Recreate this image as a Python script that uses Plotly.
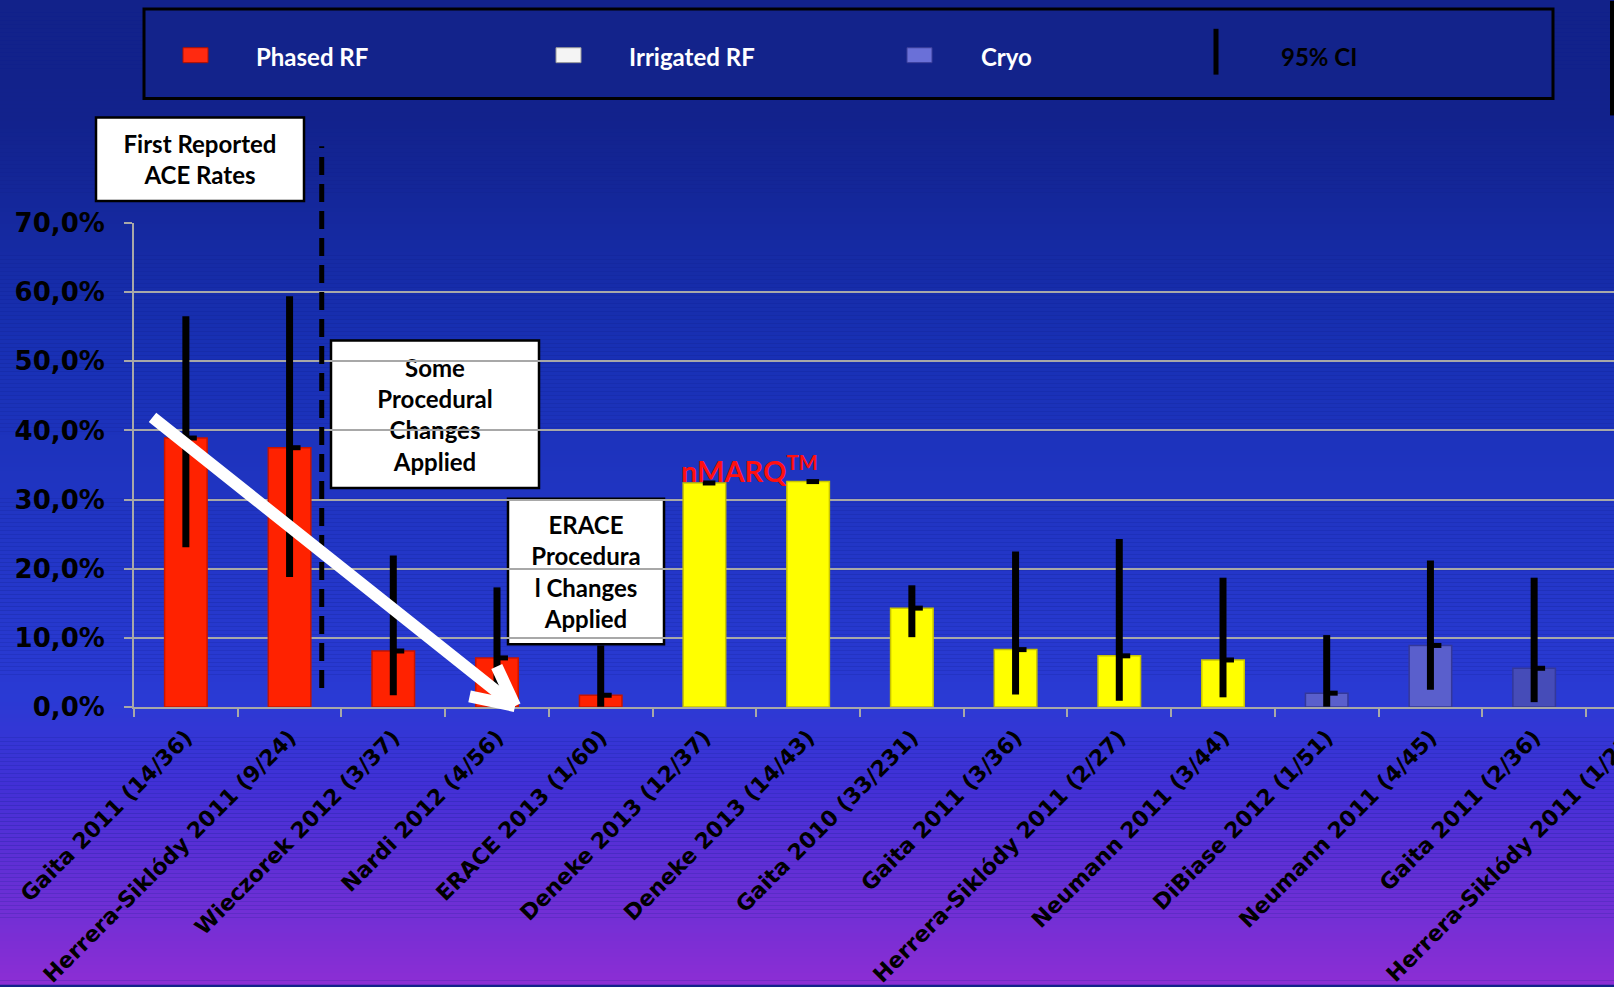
import plotly.graph_objects as go

# ---- data -------------------------------------------------------------
studies = [
    "Gaita 2011 (14/36)", "Herrera-Siklódy 2011 (9/24)", "Wieczorek 2012 (3/37)",
    "Nardi 2012 (4/56)", "ERACE 2013 (1/60)", "Deneke 2013 (12/37)",
    "Deneke 2013 (14/43)", "Gaita 2010 (33/231)", "Gaita 2011 (3/36)",
    "Herrera-Siklódy 2011 (2/27)", "Neumann 2011 (3/44)", "DiBiase 2012 (1/51)",
    "Neumann 2011 (4/45)", "Gaita 2011 (2/36)", "Herrera-Siklódy 2011 (1/23)",
]
technology = (["Phased RF"] * 5 + ["Irrigated RF"] * 6 + ["Cryo"] * 4)
ace_rate = [38.9, 37.5, 8.1, 7.1, 1.7, 32.4, 32.6, 14.3, 8.3, 7.4, 6.8, 2.0, 8.9, 5.6, 4.3]
ci_low = [23.1, 18.8, 1.7, 2.0, 0.04, 32.4, 32.6, 10.1, 1.8, 0.9, 1.4, 0.05, 2.5, 0.7, 0.1]
ci_high = [56.5, 59.4, 21.9, 17.3, 8.9, 32.4, 32.6, 17.6, 22.5, 24.3, 18.7, 10.4, 21.2, 18.7, 21.9]

legend_labels = ["Phased RF", "Irrigated RF", "Cryo", "95% CI"]
y_ticks = [0, 10, 20, 30, 40, 50, 60, 70]
y_tick_labels = ["0,0%", "10,0%", "20,0%", "30,0%", "40,0%", "50,0%", "60,0%", "70,0%"]

# ---- page geometry ----------------------------------------------------
W, H = 1614, 987
M_L, M_R, M_T, M_B = 134, 0, 223, 278
X_RANGE = [-0.5, 13.77]
PLOT_W = W - M_L - M_R
PLOT_H = H - M_T - M_B


def px(x):
    return (x - M_L) / PLOT_W


def py(y):
    return (H - M_B - y) / PLOT_H


bar_colors = {"Phased RF": "#ff2200", "Irrigated RF": "#ffff00", "Cryo": "#5a5fcc"}
bar_edges = {"Phased RF": "#c81400", "Irrigated RF": "#c8c400", "Cryo": "#34389a"}
tick_font = dict(family="DejaVu Sans", size=22, color="black", weight="bold")
label_font = dict(family="Lato", size=24, color="black", weight="bold")

fig = go.Figure()

for tech in ["Phased RF", "Irrigated RF", "Cryo"]:
    idx = [i for i, t in enumerate(technology) if t == tech]
    cols = [bar_colors[tech]] * len(idx)
    if tech == "Cryo":
        cols[-2] = "#464cb8"
    fig.add_trace(go.Bar(
        x=[studies[i] for i in idx],
        y=[ace_rate[i] for i in idx],
        width=0.41,
        marker=dict(color=cols, line=dict(color=bar_edges[tech], width=1.5)),
        error_y=dict(
            type="data", symmetric=False,
            array=[ci_high[i] - ace_rate[i] for i in idx],
            arrayminus=[ace_rate[i] - ci_low[i] for i in idx],
            color="black", thickness=7, width=0,
        ),
        name=tech, showlegend=False, hoverinfo="skip",
    ))

# point-estimate tick beside each CI line
fig.add_trace(go.Scatter(
    x=[i + 0.045 for i in range(len(studies))], y=ace_rate, xaxis="x2",
    mode="markers",
    marker=dict(symbol="line-ew", size=9, line=dict(color="black", width=5)),
    showlegend=False, hoverinfo="skip",
))

# ---- background gradient ---------------------------------------------
stops = [(0.0, (18, 34, 138)), (0.12, (18, 34, 140)), (0.35, (24, 48, 180)),
         (0.71, (42, 58, 212)), (0.80, (66, 48, 214)), (1.0, (140, 46, 212))]


def grad(t):
    for (t0, c0), (t1, c1) in zip(stops[:-1], stops[1:]):
        if t0 <= t <= t1:
            f = (t - t0) / (t1 - t0) if t1 > t0 else 0
            return "rgb(%d,%d,%d)" % tuple(round(a + (b - a) * f) for a, b in zip(c0, c1))
    return "rgb(%d,%d,%d)" % stops[-1][1]


shapes = []
band = 4
for y0 in range(0, H, band):
    shapes.append(dict(type="rect", xref="paper", yref="paper", layer="below",
                       x0=px(0), x1=px(W), y0=py(y0 + band), y1=py(y0),
                       fillcolor=grad((y0 + band / 2) / H), line=dict(width=0)))

# legend panel
shapes.append(dict(type="rect", xref="paper", yref="paper", layer="below",
                   x0=px(144), x1=px(1553), y0=py(98), y1=py(8),
                   fillcolor="#13238b", line=dict(color="black", width=3)))
swatches = [(183, "#ff2a10", "#b01000"), (556, "#f4f4f4", "#9a9a9a"), (907, "#6a70d8", "#3a3e9a")]
for x0, fc, lc in swatches:
    shapes.append(dict(type="rect", xref="paper", yref="paper", layer="above",
                       x0=px(x0), x1=px(x0 + 25), y0=py(62), y1=py(47),
                       fillcolor=fc, line=dict(color=lc, width=1)))
shapes.append(dict(type="line", xref="paper", yref="paper", layer="above",
                   x0=px(1216), x1=px(1216), y0=py(74), y1=py(28),
                   line=dict(color="black", width=5)))
shapes.append(dict(type="line", xref="paper", yref="paper", layer="above",
                   x0=px(1612), x1=px(1612), y0=py(115), y1=py(0),
                   line=dict(color="black", width=4)))

# note boxes
boxes = [
    ((96, 117, 304, 201), "First Reported<br>ACE Rates"),
    ((331, 341, 539, 489), "Some<br>Procedural<br>Changes<br>Applied"),
    ((508, 500, 664, 646), "ERACE<br>Procedura<br>l Changes<br>Applied"),
]
for (x0, y0, x1, y1), txt in boxes:
    shapes.append(dict(type="rect", xref="paper", yref="paper", layer="below",
                       x0=px(x0), x1=px(x1), y0=py(y1), y1=py(y0),
                       fillcolor="white", line=dict(color="black", width=2.5),
                       label=dict(text=txt, font=label_font, textposition="middle center")))

# separator between first reports and later ones
shapes.append(dict(type="line", xref="x2", yref="paper", layer="above",
                   x0=1.31, x1=1.31, y0=py(690), y1=py(146),
                   line=dict(color="black", width=5, dash="18px,9px")))

annotations = []
leg_x = [254, 627, 979, 1279]
for lx, lab in zip(leg_x, legend_labels):
    annotations.append(dict(xref="paper", yref="paper", x=px(lx), y=py(56),
                            xanchor="left", yanchor="middle", showarrow=False, text=lab,
                            font=dict(family="Lato", size=24, weight="bold",
                                      color="black" if lab == "95% CI" else "white")))

annotations.append(dict(xref="x2", yref="y", x=5.0, y=ace_rate[5], xanchor="left",
                        yanchor="bottom", xshift=-25, yshift=-7, showarrow=False,
                        text="nMARQ<sup>TM</sup>",
                        font=dict(family="Lato", size=29, weight="bold", color="#ff1010")))

# label of the study just beyond the right edge
annotations.append(dict(xref="paper", yref="paper",
                        x=(14 - X_RANGE[0]) / (X_RANGE[1] - X_RANGE[0]), y=py(724),
                        xanchor="right", yanchor="top", textangle=-45, showarrow=False,
                        xshift=9, text=studies[14], font=tick_font))

# downward trend arrow
tip = (3.174, 0.14)
annotations.append(dict(xref="x2", yref="y", axref="x2", ayref="y", x=tip[0], y=tip[1],
                        ax=-0.336, ay=42.06, text="", showarrow=True, arrowhead=0,
                        arrowwidth=12, arrowcolor="white"))
for ax, ay in [(-47, -10), (-19, -41)]:
    annotations.append(dict(xref="x2", yref="y", x=tip[0], y=tip[1], ax=ax, ay=ay,
                            text="", showarrow=True, arrowhead=0, arrowwidth=12,
                            arrowcolor="white"))

fig.update_layout(
    width=W, height=H,
    margin=dict(l=M_L, r=M_R, t=M_T, b=M_B, pad=0),
    paper_bgcolor="rgb(18,34,138)", plot_bgcolor="rgba(0,0,0,0)",
    barmode="overlay",
    shapes=shapes, annotations=annotations,
    xaxis=dict(type="category", categoryorder="array", categoryarray=studies,
               range=X_RANGE, tickson="boundaries", ticks="outside", ticklen=8,
               tickcolor="#a8a8a8", tickwidth=2, tickangle=-45, tickfont=tick_font,
               ticklabelstandoff=7,
               showline=True, linecolor="#a8a8a8", linewidth=2, showgrid=False),
    xaxis2=dict(overlaying="x", range=X_RANGE, visible=False, anchor="y"),
    yaxis=dict(range=[0, 70], tickvals=y_ticks, ticktext=y_tick_labels,
               tickfont=dict(family="DejaVu Sans", size=26, color="black", weight="bold"),
               ticks="outside", ticklen=8, tickcolor="#a8a8a8", tickwidth=2,
               ticklabelstandoff=14,
               showgrid=True, gridcolor="#a8a8a8", gridwidth=2,
               showline=True, linecolor="#a8a8a8", linewidth=2, zeroline=False),
)

fig.write_html("out.html")
